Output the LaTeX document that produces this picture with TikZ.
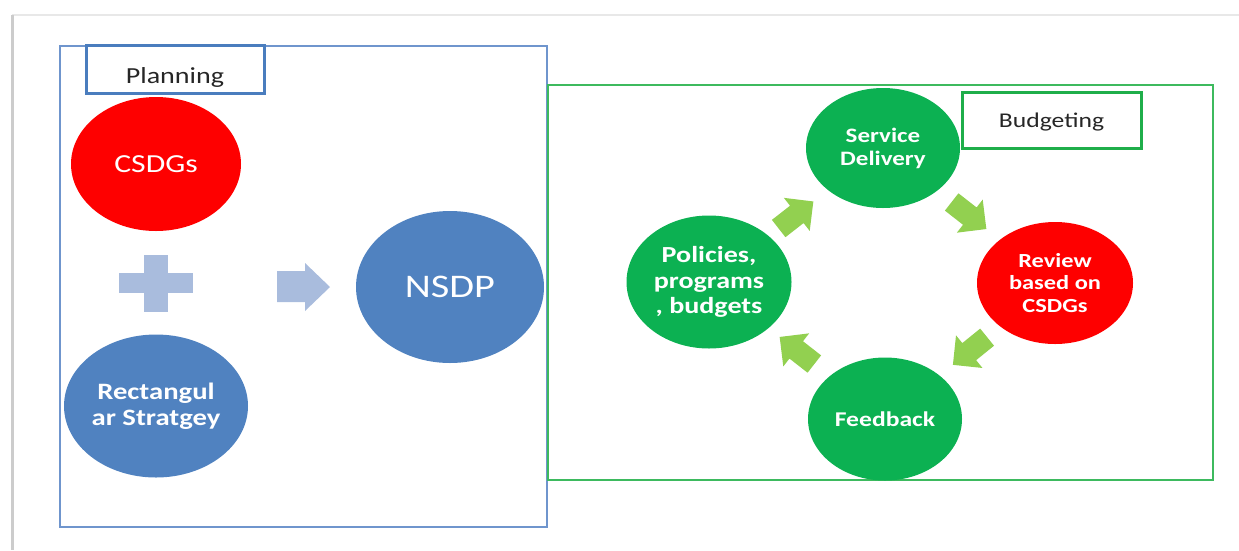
\documentclass[tikz,border=0pt]{standalone}
\usepackage{fontspec}
\usetikzlibrary{shapes.geometric,calc}
\newfontfamily\calib{Carlito}[FakeStretch=1.22]

\definecolor{frameblue}{HTML}{6F95CD}
\definecolor{tagblue}{HTML}{4A7DBE}
\definecolor{ballblue}{HTML}{5082C0}
\definecolor{paleblue}{HTML}{A9BCDD}
\definecolor{ballred}{HTML}{FE0000}
\definecolor{ballgreen}{HTML}{0CB152}
\definecolor{framegreen}{HTML}{3DBA5E}
\definecolor{taggreen}{HTML}{1FAE4A}
\definecolor{arrowgreen}{HTML}{92D050}
\definecolor{inkgray}{HTML}{262626}

\tikzset{
  ball/.style={ellipse, inner sep=0pt, text=white, align=center, font=\calib},
  tagbox/.style={rectangle, draw, line width=3pt, inner sep=2pt, text=inkgray},
  cyclearrow/.style={fill=arrowgreen, draw=none},
}

\begin{document}
\begin{tikzpicture}[x=1pt, y=-1pt]
  \useasboundingbox (0,0) rectangle (1239,550);

  % page edge
  \draw[gray!18, line width=1.5pt] (12,15) -- (1239,15);
  \draw[gray!40, line width=3pt] (12,15) -- (12,550);

  % outer frames
  \draw[frameblue, line width=1.5pt] (60,46) rectangle (547,527);
  \draw[framegreen, line width=1.5pt] (548,85) rectangle (1213,480);

  % section tags
  \node[tagbox, draw=tagblue, minimum width=178pt, text height=36pt, text depth=8pt,
        anchor=base, font=\calib\fontsize{23}{27}\selectfont] (plan) at (175,83.5) {Planning};
  \node[tagbox, draw=taggreen, minimum width=179pt, text height=33pt, text depth=19pt,
        anchor=base, font=\calib\fontsize{21}{25}\selectfont] (budg) at (1051.5,127) {Budgeting};

  % planning side
  \node[ball, fill=ballred, minimum width=170pt, minimum height=134pt,
        font=\calib\fontsize{26}{30}\selectfont] (csdg) at (156,164) {CSDGs};
  \node[ball, fill=ballblue, minimum width=184pt, minimum height=143pt,
        font=\calib\bfseries\fontsize{23.5}{26.5}\selectfont] (rect) at (156,406) {Rectangul\\ar Stratgey};
  \node[ball, fill=ballblue, minimum width=188pt, minimum height=152pt,
        font=\calib\fontsize{33}{37}\selectfont] (nsdp) at (450,287) {NSDP};

  % plus sign
  \fill[paleblue] (144,255) rectangle (168,312);
  \fill[paleblue] (119,273) rectangle (193,293);

  % block arrow towards NSDP
  \fill[paleblue] (277,271) -- (305,271) -- (305,263) -- (330,287)
                  -- (305,311) -- (305,302) -- (277,302) -- cycle;

  % budgeting cycle
  \node[ball, fill=ballgreen, minimum width=154pt, minimum height=120pt,
        font=\calib\bfseries\fontsize{20.5}{23}\selectfont] (svc) at (883,148) {Service\\Delivery};
  \node[ball, fill=ballred, minimum width=156pt, minimum height=122pt,
        font=\calib\bfseries\fontsize{20}{22.5}\selectfont] (rev) at (1055,283) {Review\\based on\\CSDGs};
  \node[ball, fill=ballgreen, minimum width=154pt, minimum height=123pt,
        font=\calib\bfseries\fontsize{21}{24}\selectfont] (fb) at (885,419) {Feedback};
  \node[ball, fill=ballgreen, minimum width=165pt, minimum height=133pt,
        font=\calib\bfseries\fontsize{23}{25.5}\selectfont] (pol) at (709,282) {Policies,\\programs\\, budgets};

  % cycle arrows between neighbouring stages
  \foreach \a/\b/\ang in {pol/svc/38, svc/rev/-38, rev/fb/-141, fb/pol/142}{
    \path[cyclearrow, shift={($(\a)!0.5!(\b)$)}, rotate=\ang]
      (-22,-11) -- (1,-11) -- (1,-21) -- (22,0) -- (1,21) -- (1,11) -- (-22,11) -- cycle;
  }
\end{tikzpicture}
\end{document}
